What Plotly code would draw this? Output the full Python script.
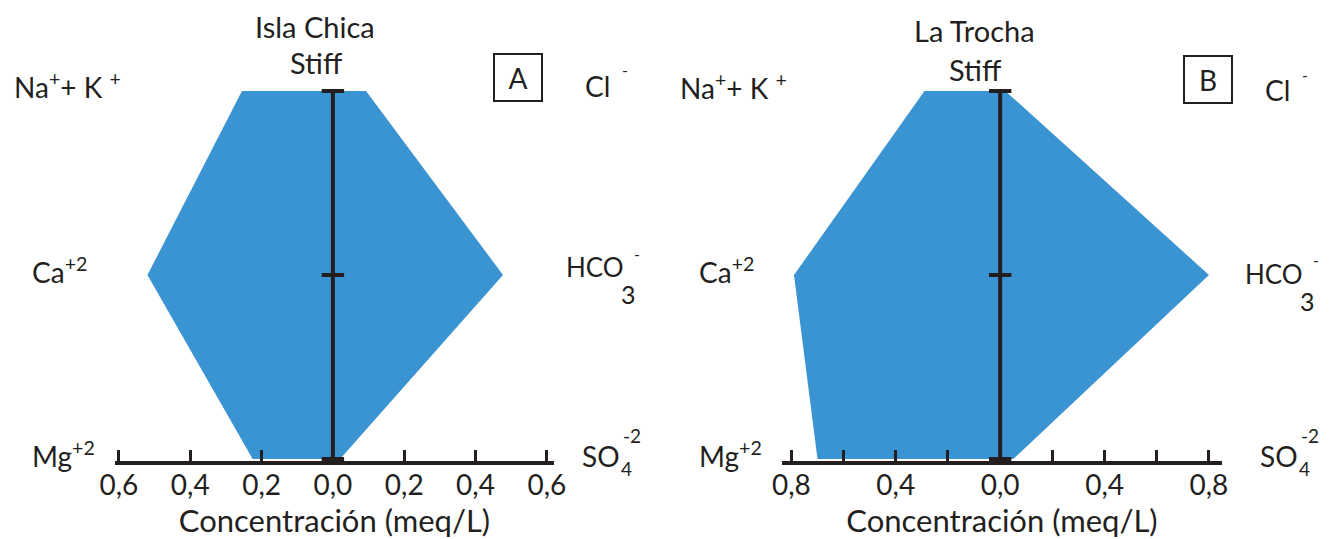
import plotly.graph_objects as go

# ---------------- Data ----------------
rows = [2, 1, 0]  # top (Na+K / Cl), middle (Ca / HCO3), bottom (Mg / SO4)
cation_labels = ["Na<sup>+</sup>+ K <sup>+</sup>", "Ca<sup>+2</sup>", "Mg<sup>+2</sup>"]

# Isla Chica (meq/L): Na+K, Ca, Mg | Cl, HCO3, SO4
isla_cations = [0.255, 0.52, 0.225]
isla_anions = [0.093, 0.477, 0.02]
# La Trocha (meq/L)
trocha_cations = [0.29, 0.79, 0.70]
trocha_anions = [0.02, 0.80, 0.05]

left_ticks = [-0.6, -0.4, -0.2, 0.0, 0.2, 0.4, 0.6]
left_ticktext = ["0,6", "0,4", "0,2", "0,0", "0,2", "0,4", "0,6"]
right_ticks = [-0.8, -0.6, -0.4, -0.2, 0.0, 0.2, 0.4, 0.6, 0.8]
right_ticktext = ["0,8", "", "0,4", "", "0,0", "", "0,4", "", "0,8"]

BLUE = "#3b94d2"
FONT = "Lato"
TXT = "#231f20"

# page body has an 8px margin: figure is drawn offset by (8, 8)
OFF = 8
W, H = 1335 - OFF, 539 - OFF
T, B = 20, 461          # plot area top / bottom in target page px

fig = go.Figure()


def add_panel(cats, ans, xa, ya):
    xs = [-c for c in cats] + [a for a in reversed(ans)]
    ys = rows + list(reversed(rows))
    xs.append(xs[0])
    ys.append(ys[0])
    fig.add_trace(go.Scatter(x=xs, y=ys, fill="toself", fillcolor=BLUE, mode="lines",
                             line=dict(width=0, color=BLUE), xaxis=xa, yaxis=ya,
                             hoverinfo="skip", showlegend=False))
    fig.add_trace(go.Scatter(x=[0] * len(rows), y=rows, mode="lines+markers",
                             line=dict(color=TXT, width=4),
                             marker=dict(symbol="line-ew", size=16,
                                         line=dict(color=TXT, width=4)),
                             xaxis=xa, yaxis=ya, hoverinfo="skip", showlegend=False))


add_panel(isla_cations, isla_anions, "x", "y")
add_panel(trocha_cations, trocha_anions, "x2", "y2")

pxu = 184.0
yr = [(459 - B) / pxu, (459 - T) / pxu]

axis_common = dict(showgrid=False, zeroline=False, showline=True, linecolor=TXT,
                   linewidth=3.5, ticks="inside", ticklen=11, tickwidth=2.5,
                   tickcolor=TXT, tickmode="array", automargin=False,
                   tickfont=dict(family=FONT, size=28, color=TXT),
                   title=dict(text="Concentración (meq/L)",
                              font=dict(family=FONT, size=31, color=TXT), standoff=5),
                   ticklabelstandoff=-3, fixedrange=True)


def dom(a, b):
    return [(a - OFF) / W, (b - OFF) / W]


fig.update_layout(
    width=W, height=H,
    margin=dict(l=0, r=0, t=T - OFF, b=H - (B - OFF), pad=0, autoexpand=False),
    paper_bgcolor="white", plot_bgcolor="white",
    xaxis=dict(domain=dom(115, 554), range=[-0.611, 0.62], tickvals=left_ticks,
               ticktext=left_ticktext, anchor="y", **axis_common),
    xaxis2=dict(domain=dom(782, 1222), range=[-0.836, 0.85], tickvals=right_ticks,
                ticktext=right_ticktext, anchor="y2", **axis_common),
    yaxis=dict(range=yr, visible=False, domain=[0, 1], anchor="x", automargin=False),
    yaxis2=dict(range=yr, visible=False, domain=[0, 1], anchor="x2", automargin=False),
)

ann = []


def px2paper(x, y):
    return (x - OFF) / W, (B - y) / (B - T)


def txt(x, y, s, size=28, xanchor="center", **kw):
    px, py = px2paper(x, y)
    ann.append(dict(x=px, y=py, xref="paper", yref="paper", text=s,
                    showarrow=False, xanchor=xanchor, yanchor="middle",
                    font=dict(family=FONT, size=size, color=TXT), **kw))


def box(x, y, s):
    px, py = px2paper(x, y)
    ann.append(dict(x=px, y=py, xref="paper", yref="paper", text=s,
                    showarrow=False, xanchor="center", yanchor="middle", width=46, height=45,
                    borderpad=0, bordercolor=TXT, borderwidth=2,
                    font=dict(family=FONT, size=28, color=TXT)))


def anion(xend, y, base, size=28, sub=None, sup=None, subsize=26, supsize=16,
          subx=None, subdy=26, supx=None, supdy=-13):
    txt(xend, y, base, size=size, xanchor="right")
    if sub:
        txt(subx, y + subdy, sub, size=subsize, xanchor="left")
    if sup:
        txt(supx, y + supdy, sup, size=supsize, xanchor="left")


# Panel A
txt(315, 26, "Isla Chica", size=29)
txt(316, 62, "Stiff", size=29)
box(518, 77, "A")
txt(12, 85, cation_labels[0], xanchor="left")
txt(30, 270, cation_labels[1], xanchor="left")
txt(30, 454, cation_labels[2], xanchor="left")
anion(612, 86, "Cl", sup="-", supx=620, supdy=-16)
anion(626, 267, "HCO", size=26, sub="3", sup="-", subsize=25, subx=619, subdy=27,
      supx=632, supdy=-14)
anion(622, 456, "SO", sub="4", sup="-2", subsize=19, subx=619, subdy=12,
      supsize=19, supx=621, supdy=-21)
# Panel B
txt(975, 31, "La Trocha", size=29)
txt(975, 70, "Stiff", size=29)
box(1208, 79, "B")
txt(678, 86, cation_labels[0], xanchor="left")
txt(697, 270, cation_labels[1], xanchor="left")
txt(697, 454, cation_labels[2], xanchor="left")
anion(1292, 90, "Cl", sup="-", supx=1300, supdy=-16)
anion(1305, 274, "HCO", size=26, sub="3", sup="-", subsize=25, subx=1298, subdy=27,
      supx=1311, supdy=-14)
anion(1300, 456, "SO", sub="4", sup="-2", subsize=19, subx=1297, subdy=12,
      supsize=19, supx=1299, supdy=-21)

fig.update_layout(annotations=ann)
fig.write_html("out.html")
